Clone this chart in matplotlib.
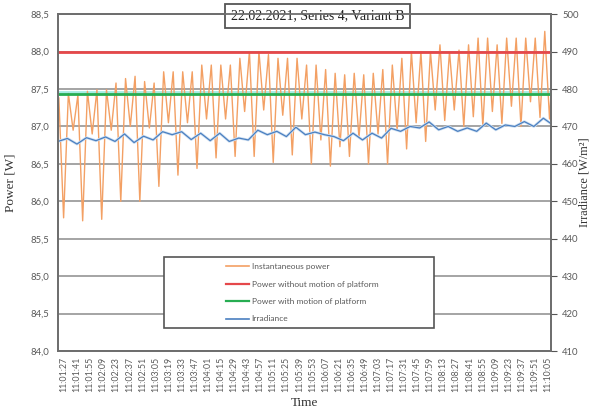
import numpy as np
import matplotlib
matplotlib.use("Agg")
import matplotlib.pyplot as plt
from matplotlib.patches import Rectangle
from matplotlib.lines import Line2D

# time labels, every 14 s from 11:01:27 to 11:10:05
time_labels = [
    "11:01:27", "11:01:41", "11:01:55", "11:02:09", "11:02:23", "11:02:37",
    "11:02:51", "11:03:05", "11:03:19", "11:03:33", "11:03:47", "11:04:01",
    "11:04:15", "11:04:29", "11:04:43", "11:04:57", "11:05:11", "11:05:25",
    "11:05:39", "11:05:53", "11:06:07", "11:06:21", "11:06:35", "11:06:49",
    "11:07:03", "11:07:17", "11:07:31", "11:07:45", "11:07:59", "11:08:13",
    "11:08:27", "11:08:41", "11:08:55", "11:09:09", "11:09:23", "11:09:37",
    "11:09:51", "11:10:05",
]

# instantaneous power [W], read at ~5 s steps (peak, dip, peak, notch ...)
inst_power = [
    87.38, 85.78, 87.44, 86.95,
    87.42, 85.74, 87.47, 86.90,
    87.49, 85.76, 87.49, 86.95,
    87.58, 86.00, 87.64, 87.00,
    87.67, 86.00, 87.60, 86.98,
    87.58, 86.20, 87.73, 87.05,
    87.73, 86.35, 87.73, 87.05,
    87.73, 86.44, 87.82, 87.10,
    87.82, 86.58, 87.82, 87.10,
    87.82, 86.60, 87.91, 87.20,
    88.00, 86.60, 88.00, 87.22,
    87.96, 86.52, 87.91, 87.15,
    87.91, 86.62, 87.91, 87.10,
    87.82, 86.50, 87.82, 86.82,
    87.76, 86.47, 87.71, 86.73,
    87.69, 86.60, 87.71, 86.85,
    87.69, 86.50, 87.71, 86.90,
    87.76, 86.50, 87.82, 86.95,
    87.91, 86.70, 88.00, 87.05,
    88.00, 86.80, 88.00, 87.22,
    88.09, 87.08, 88.00, 87.22,
    88.02, 87.00, 88.09, 87.13,
    88.18, 87.00, 88.18, 87.20,
    88.09, 87.04, 88.18, 87.27,
    88.18, 87.00, 88.18, 87.33,
    88.18, 87.12, 88.27, 87.10,
    88.16,
]

# irradiance [W/m2], read at ~10 s steps
irradiance = [
    466.0, 466.8, 465.3, 467.0, 466.2, 467.2, 466.0, 468.0, 465.7, 467.4,
    466.4, 468.6, 467.8, 468.6, 466.5, 468.2, 466.2, 468.2, 466.0, 466.9,
    466.4, 469.0, 467.8, 468.7, 467.3, 469.8, 467.8, 468.5, 467.8, 467.3,
    466.2, 468.2, 466.4, 468.2, 466.9, 469.5, 468.7, 470.0, 469.6, 471.2,
    469.1, 470.0, 468.7, 469.6, 468.7, 470.9, 469.1, 470.4, 470.0, 471.3,
    470.0, 472.2, 470.4,
]

power_no_motion = 88.0
power_with_motion = 87.43

series_names = [
    "Instantaneous power",
    "Power without motion of platform",
    "Power with motion of platform",
    "Irradiance",
]

c_orange = "#f3a064"
c_red = "#e5484a"
c_green = "#27ad52"
c_blue = "#4a7fc0"
c_grey = "#595959"

t_ticks = np.arange(len(time_labels)) * 14
t_power = np.arange(len(inst_power)) * 5.1 - 5.4
t_irr = np.arange(len(irradiance)) * 10.19 - 6.4

fig = plt.figure(figsize=(5.97, 4.16), dpi=100)
ax = fig.add_axes([0.097, 0.156, 0.826, 0.81])
ax2 = ax.twinx()

ax.set_xlim(-6.4, 521.5)
ax.set_ylim(84.0, 88.5)
ax2.set_ylim(410, 500)

yt = np.arange(84.0, 88.51, 0.5)
ax.set_yticks(yt)
ax.set_yticklabels([f"{v:.1f}".replace(".", ",") for v in yt])
ax2.set_yticks(np.arange(410, 501, 10))

for v in yt:
    ax.axhline(v, color="#8c8c8c", lw=1.1, zorder=0)

ax.axhline(power_with_motion + 0.035, color="#a6ebe2", lw=2.0, zorder=1)
ax.axhline(power_no_motion, color=c_red, lw=2.0, zorder=3)
ax.axhline(power_with_motion, color=c_green, lw=2.0, zorder=3)
ax.plot(t_power, inst_power, color=c_orange, lw=1.0, zorder=2)
ax2.plot(t_irr, irradiance, color="#cfe0f2", lw=2.0, zorder=1)
ax2.plot(t_irr, irradiance, color=c_blue, lw=0.9, zorder=2)

ax.set_xticks(t_ticks)
ax.set_xticklabels(time_labels, rotation=90, fontsize=6.3, color=c_grey, family="Lato")
ax.tick_params(axis="x", length=0, pad=4)
ax.tick_params(axis="y", length=0, labelsize=6.8, labelcolor=c_grey, pad=6)
ax2.tick_params(axis="y", length=4, direction="out", color="#555555",
                labelsize=6.8, labelcolor=c_grey, pad=4)
for lab in ax.get_yticklabels() + ax2.get_yticklabels():
    lab.set_family("Lato")

for a in (ax, ax2):
    for s in a.spines.values():
        s.set_color("#6e6e6e")
        s.set_linewidth(1.3)

ax.set_ylabel("Power [W]", family="Liberation Serif", fontsize=9.5, color="#333333", labelpad=10)
ax2.set_ylabel("Irradiance [W/m²]", family="Liberation Serif", fontsize=8.8, color="#333333", labelpad=0)
ax.set_xlabel("Time", family="Liberation Serif", fontsize=9.5, color="#333333", labelpad=4)

ax.text(0.527, 0.995, "22.02.2021, Series 4, Variant B", transform=ax.transAxes,
        ha="center", va="center", family="Liberation Serif", fontsize=10, color="#222222",
        bbox=dict(boxstyle="square,pad=0.4", fc="white", ec="#555555", lw=1.3), zorder=10)

# legend box
ax2.add_patch(Rectangle((0.215, 0.069), 0.548, 0.21, transform=ax.transAxes,
                        fc="white", ec="#555555", lw=1.2, zorder=5))
handles = [
    Line2D([], [], color=c_orange, lw=1.2),
    Line2D([], [], color=c_red, lw=1.6),
    Line2D([], [], color=c_green, lw=1.6),
    Line2D([], [], color=c_blue, lw=1.2),
]
leg = ax2.legend(handles, series_names, loc="upper left", bbox_to_anchor=(0.325, 0.283),
                 frameon=False, handlelength=2.8, handletextpad=0.3,
                 labelspacing=1.25, borderpad=0.4, prop={"family": "Lato", "size": 6})
leg.set_zorder(6)
for txt in leg.get_texts():
    txt.set_color(c_grey)

fig.savefig("out.png", dpi=100, facecolor="white")
